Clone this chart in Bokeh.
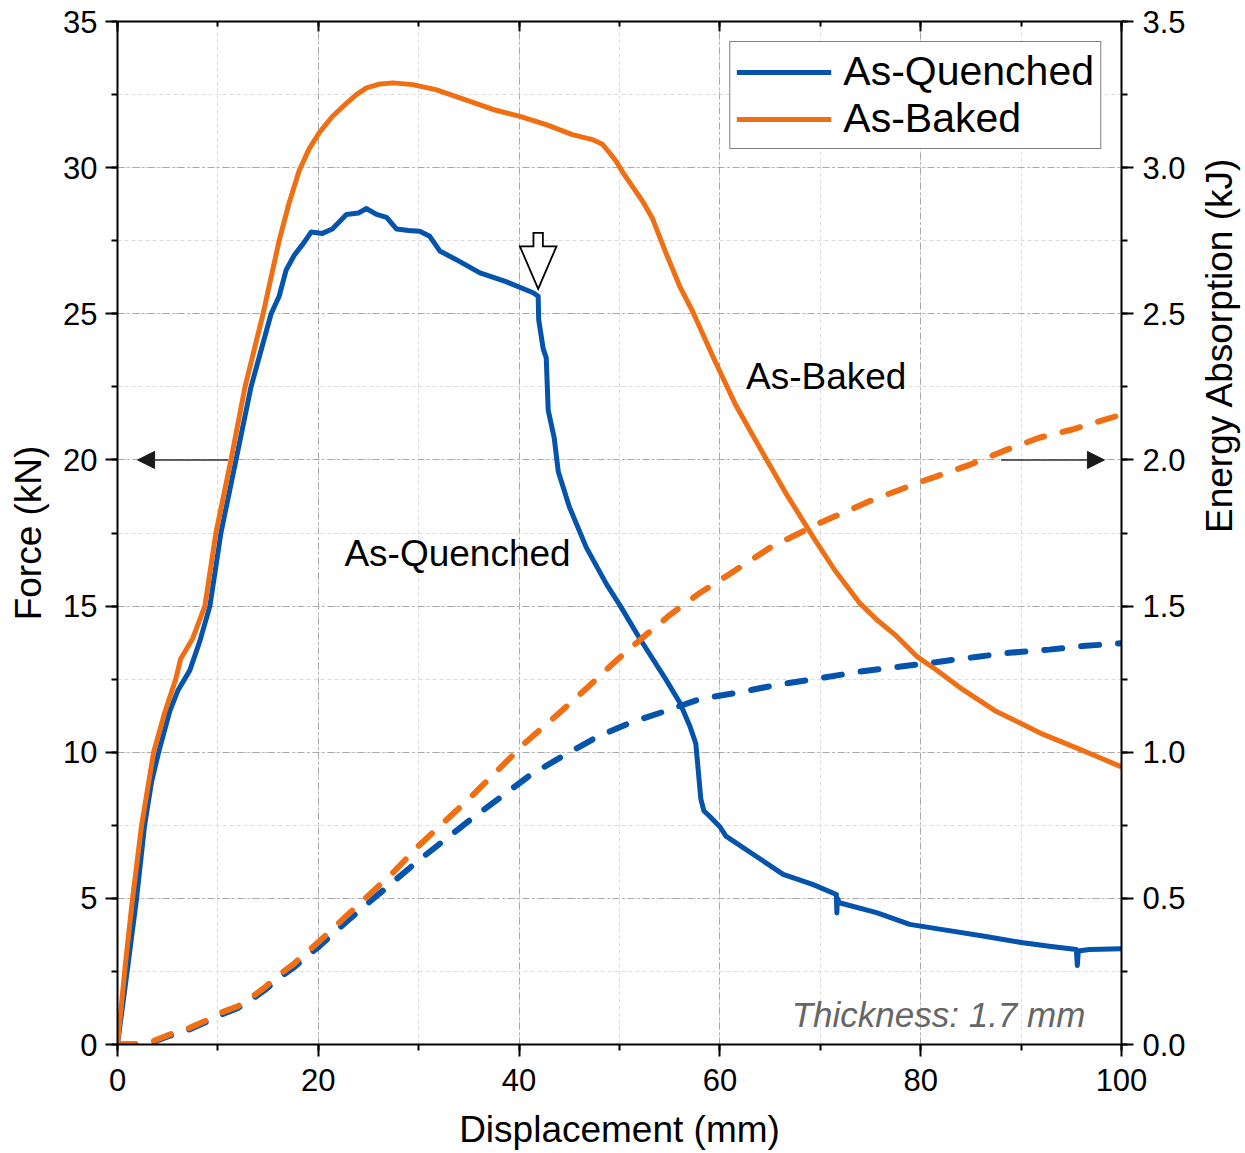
import math
from bokeh.plotting import figure
from bokeh.models import (Range1d, LinearAxis, SingleIntervalTicker, PrintfTickFormatter,
                          Legend, LegendItem, Arrow, NormalHead)
from bokeh.embed import file_html
from bokeh.resources import INLINE

# ---------------- data ----------------
disp_aq = [0, 1.0, 1.9, 2.7, 3.4, 4.1, 5.2, 6.0, 7.2, 8.2, 9.2, 10.3, 11.8, 13.3, 15.3, 16.1, 16.8,
           17.6, 18.5, 19.3, 20.4, 21.4, 22.8, 24.0, 24.8, 25.8, 26.8, 27.8, 29.0, 30.1, 31.1, 32.1,
           33.7, 36.1, 38.7, 41.4, 41.9, 41.95, 42.4, 42.7, 42.9, 43.5, 43.9, 45.0, 46.7, 48.7, 50.0,
           52.0, 54.6, 56.0, 57.0, 57.6, 58.1, 58.4, 59.0, 60.0, 60.6, 63.6, 66.3, 69.3, 71.6, 71.65,
           71.7, 71.9, 75.6, 78.9, 82.2, 86.2, 90.2, 92.8, 95.5, 95.6, 95.7, 96.8, 100]
force_aq = [0, 2.6, 5.0, 7.5, 9.0, 10.0, 11.4, 12.1, 12.8, 13.8, 15.0, 17.5, 20.0, 22.5, 25.0, 25.6, 26.5,
            27.0, 27.4, 27.8, 27.75, 27.9, 28.4, 28.45, 28.6, 28.4, 28.3, 27.9, 27.85, 27.82, 27.65, 27.15,
            26.86, 26.4, 26.1, 25.72, 25.6, 24.8, 23.8, 23.5, 21.7, 20.75, 19.6, 18.4, 17.0, 15.75, 15.05,
            13.9, 12.5, 11.7, 10.9, 10.3, 8.4, 8.0, 7.8, 7.45, 7.13, 6.44, 5.82, 5.47, 5.13, 4.5,
            5.0, 4.85, 4.51, 4.11, 3.93, 3.71, 3.48, 3.36, 3.25, 2.7, 3.2, 3.25, 3.28]

disp_ab = [0, 0.8, 1.5, 2.4, 3.6, 4.7, 5.8, 6.3, 7.5, 8.7, 9.8, 11.3, 12.7, 14.5, 16.1, 17.1, 18.1,
           19.1, 20.1, 21.4, 22.8, 23.8, 24.8, 26.0, 27.4, 29.4, 31.7, 34.1, 37.4, 40.0, 42.7, 45.3,
           47.3, 48.3, 49.0, 49.7, 50.3, 51.3, 52.3, 53.3, 54.6, 56.0, 57.3, 59.3, 61.6, 64.0, 66.5,
           69.4, 71.5, 73.9, 75.6, 77.6, 79.6, 81.5, 84.2, 87.5, 90.2, 92.2, 95.5, 97.5, 100]
force_ab = [0, 2.8, 5.0, 7.5, 10.0, 11.35, 12.5, 13.2, 13.9, 15.0, 17.5, 20.0, 22.5, 25.0, 27.5, 28.8, 29.9,
            30.65, 31.2, 31.75, 32.2, 32.5, 32.73, 32.85, 32.9, 32.84, 32.67, 32.39, 31.99, 31.76, 31.47, 31.13,
            30.96, 30.8, 30.51, 30.2, 29.85, 29.35, 28.85, 28.25, 27.1, 25.94, 25.07, 23.54, 21.86, 20.4, 18.9,
            17.3, 16.2, 15.11, 14.54, 13.97, 13.28, 12.83, 12.14, 11.40, 10.95, 10.61, 10.15, 9.86, 9.5]

disp_e_aq = [0, 1.5, 3.5, 5.2, 7.2, 8.7, 10.2, 12.0, 13.5, 14.8, 16.1, 17.5, 18.8, 20.1, 22.8, 25.0,
             30.0, 35.0, 41.0, 44.4, 47.7, 51.0, 54.6, 58.0, 62.0, 65.3, 69.6, 74.2, 78.2, 81.5, 85.5,
             88.8, 92.8, 96.1, 100]
energy_aq = [0, 0.0, 0.008, 0.03, 0.052, 0.075, 0.10, 0.125, 0.158, 0.19, 0.228, 0.262, 0.30, 0.336, 0.42,
             0.485, 0.63, 0.765, 0.919, 0.988, 1.051, 1.10, 1.141, 1.182, 1.205, 1.228, 1.251, 1.277,
             1.294, 1.308, 1.326, 1.340, 1.351, 1.363, 1.373]

disp_e_ab = [0, 1.5, 3.5, 5.2, 7.2, 8.7, 10.2, 12.0, 13.5, 14.8, 16.1, 17.5, 18.8, 20.1, 22.8, 25.0,
             27.5, 30.0, 35.0, 40.7, 44.0, 46.7, 49.3, 52.3, 55.0, 58.0, 60.9, 65.0, 70.0, 75.0, 80.0,
             85.0, 88.2, 91.8, 95.1, 100]
energy_ab = [0, 0.0, 0.011, 0.034, 0.057, 0.080, 0.108, 0.131, 0.165, 0.199, 0.239, 0.274, 0.314, 0.353,
             0.44, 0.51, 0.59, 0.68, 0.84, 1.035, 1.134, 1.218, 1.302, 1.392, 1.469, 1.545, 1.608, 1.70,
             1.785, 1.86, 1.925, 1.985, 2.03, 2.076, 2.104, 2.155]

series_names = ["As-Quenched", "As-Baked"]
x_ticks = [0, 20, 40, 60, 80, 100]
fracture_x, fracture_f = 41.9, 25.85   # hollow arrow marks fracture onset

BLUE = "#0453ac"
ORANGE = "#f06f14"
FONT = "Liberation Sans"

FW, FH = 1004, 1023
X0, X1, Y0, Y1, E1 = 0, 100, 0, 35, 3.5

p = figure(frame_width=FW, frame_height=FH, x_range=Range1d(X0, X1), y_range=Range1d(Y0, Y1),
           output_backend="svg", toolbar_location=None,
           min_border_left=117, min_border_right=108, min_border_top=21, min_border_bottom=95)
p.extra_y_ranges = {"energy": Range1d(0, E1)}
p.outline_line_color = None
p.background_fill_color = "white"
p.border_fill_color = "white"

bottom = p.xaxis[0]
left = p.yaxis[0]

# grids
for g in (p.xgrid, p.ygrid):
    g.grid_line_color = "#a8a8a8"
    g.grid_line_dash = "7 3 2 3"
    g.grid_line_width = 1
    g.minor_grid_line_color = "#dcdcdc"
    g.minor_grid_line_dash = "4 3"
    g.minor_grid_line_width = 1

xt = SingleIntervalTicker(interval=20, num_minor_ticks=2)
yt = SingleIntervalTicker(interval=5, num_minor_ticks=2)
et = SingleIntervalTicker(interval=0.5, num_minor_ticks=2)
bottom.ticker = xt
left.ticker = yt
p.xgrid.ticker = xt
p.ygrid.ticker = yt

right = LinearAxis(y_range_name="energy", ticker=et, formatter=PrintfTickFormatter(format="%.1f"))
top = LinearAxis(ticker=xt)
p.add_layout(right, "right")
p.add_layout(top, "above")

bottom.axis_label = "Displacement (mm)"
left.axis_label = "Force (kN)"
right.axis_label = "Energy Absorption (kJ)"
try:
    right.axis_label_orientation = math.pi / 2
except Exception:
    pass

for ax in (bottom, left, right, top):
    ax.axis_line_width = 2
    ax.axis_line_color = "black"
    ax.major_tick_line_width = 2
    ax.minor_tick_line_width = 2
    ax.major_tick_line_color = "black"
    ax.minor_tick_line_color = "black"
    ax.major_tick_out = 12
    ax.major_tick_in = 0
    ax.minor_tick_out = 6
    ax.minor_tick_in = 0
    ax.major_label_text_font = FONT
    ax.major_label_text_font_size = "31px"
    ax.major_label_text_color = "black"
    ax.major_label_standoff = 8
    ax.axis_label_text_font = FONT
    ax.axis_label_text_font_size = "37px"
    ax.axis_label_text_font_style = "normal"
    ax.axis_label_text_color = "black"
    ax.axis_label_standoff = 11

bottom.major_label_standoff = 12
bottom.axis_label_standoff = 15
top.major_tick_out = 0
top.major_tick_in = 10
top.minor_tick_out = 0
top.minor_tick_in = 5
top.major_label_overrides = {v: "" for v in x_ticks}
top.major_label_standoff = 0
right.major_label_standoff = 9
right.axis_label_standoff = 31

# curves
r_aq = p.line(disp_aq, force_aq, line_color=BLUE, line_width=5, line_join="round")
p.line(disp_e_aq, energy_aq, y_range_name="energy", line_color=BLUE, line_width=6,
       line_dash="18 19", line_cap="round")
r_ab = p.line(disp_ab, force_ab, line_color=ORANGE, line_width=5, line_join="round")
p.line(disp_e_ab, energy_ab, y_range_name="energy", line_color=ORANGE, line_width=6,
       line_dash="18 19", line_cap="round")

# legend
legend = Legend(items=[LegendItem(label=series_names[0], renderers=[r_aq]),
                       LegendItem(label=series_names[1], renderers=[r_ab])],
                location="top_right", margin=20, padding=6, spacing=0,
                glyph_width=95, glyph_height=44, label_standoff=12,
                label_text_font=FONT, label_text_font_size="41px", label_text_color="black",
                border_line_color="black", border_line_width=1.2,
                background_fill_color="white", background_fill_alpha=1)
p.add_layout(legend)

# text annotations
p.text(x=[62.6], y=[22.85], text=["As-Baked"], text_font={"value": FONT}, text_font_size="37px",
       text_baseline="middle", text_align="left", text_color="black")
p.text(x=[22.6], y=[16.8], text=["As-Quenched"], text_font={"value": FONT}, text_font_size="37px",
       text_baseline="middle", text_align="left", text_color="black")
p.text(x=[96.4], y=[1.03], text=["Thickness: 1.7 mm"], text_font={"value": FONT},
       text_font_size="35px", text_font_style="italic", text_baseline="middle", text_align="right",
       text_color="#666666")

# axis-pointer arrows
p.add_layout(Arrow(end=NormalHead(size=17, fill_color="#1a1a1a", line_color="#1a1a1a"),
                   x_start=11.0, y_start=20, x_end=2.0, y_end=20,
                   line_color="#333333", line_width=1.5))
p.add_layout(Arrow(end=NormalHead(size=17, fill_color="#1a1a1a", line_color="#1a1a1a"),
                   x_start=88.0, y_start=20, x_end=98.3, y_end=20,
                   line_color="#333333", line_width=1.5))

# hollow block arrow at fracture (shape in pixels, converted to data units)
sx = (X1 - X0) / FW
sy = (Y1 - Y0) / FH
shape_px = [(0, 0), (-18.3, 42.6), (-4.7, 42.6), (-4.7, 56), (4.7, 56), (4.7, 42.6), (18.3, 42.6)]
p.patch([fracture_x + dx * sx for dx, dy in shape_px],
        [fracture_f + dy * sy for dx, dy in shape_px],
        fill_color="white", line_color="black", line_width=1.8, line_join="miter")

open("out.html", "w").write(file_html(p, INLINE))
